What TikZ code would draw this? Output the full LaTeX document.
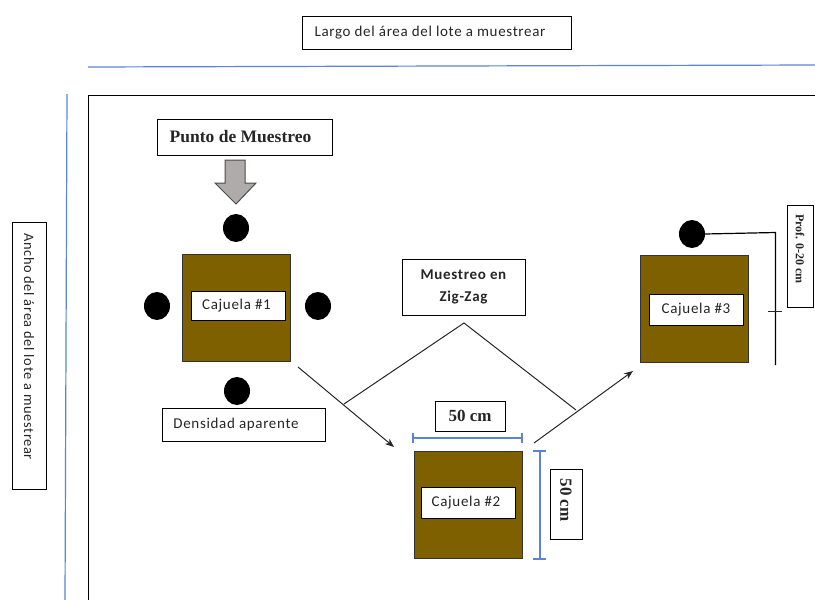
\documentclass[tikz,border=0pt]{standalone}
\usepackage{fontspec}
\setmainfont{Liberation Serif}
\newfontfamily\bodyfont[LetterSpace=4.5]{Carlito}
\usetikzlibrary{arrows.meta,shapes.geometric}
\definecolor{soil}{HTML}{7F6000}
\definecolor{dimblue}{HTML}{5B84D6}
\definecolor{arrowgray}{HTML}{AFABAB}
\tikzset{
  x=1pt,y=-1pt,
  every node/.style={inner sep=0pt,outer sep=0pt},
  lbl/.style={draw=black,line width=1pt,fill=white,font=\bodyfont\fontsize{15}{17}\selectfont,text=black!85,align=center},
  boldlbl/.style={draw=black,line width=1pt,fill=white,font=\bfseries\fontsize{17}{20}\selectfont,text=black!85,align=center},
  cajuela/.style={draw=black!80,line width=1pt,fill=soil,minimum width=108pt,minimum height=107pt},
  dotnode/.style={fill=black,draw=none,ellipse,minimum width=26pt,minimum height=28pt},
  dimline/.style={draw=dimblue,line width=1.2pt},
  conn/.style={draw=black!85,line width=1pt},
  arr/.style={conn,-{Stealth[length=9pt,width=7pt]}},
}
\begin{document}
\begin{tikzpicture}
\useasboundingbox (0,0) rectangle (815,600);
% field outline and sides
\coordinate (fa) at (815,95); \coordinate (fb) at (88,95); \coordinate (fc) at (88,600);
\draw[black,line width=1pt] (fa) -- (fb) -- (fc);
\coordinate (la) at (88,67); \coordinate (lb) at (815,65);
\draw[dimline] (la) -- (lb);
\coordinate (wa) at (67,94); \coordinate (wb) at (65,600);
\draw[dimline] (wa) -- (wb);
\node[lbl,minimum width=269pt,minimum height=33pt] (largo) at (436.5,32.5) {Largo del área del lote a muestrear\hspace*{13pt}};
\node[lbl,font=\bodyfont\fontsize{14.4}{17}\selectfont,minimum width=267pt,minimum height=34pt,rotate=-90] (ancho) at (29,355.5) {Ancho del área del lote a muestrear\hspace*{18pt}};
% cajuelas
\node[cajuela] (c1) at (236,307.5) {};
\node[cajuela] (c2) at (468,505) {};
\node[cajuela] (c3) at (694,308.5) {};
\node[lbl,minimum width=94pt,minimum height=29pt] (t1) at (238,305.5) {Cajuela \#1\hspace*{3pt}};
\node[lbl,minimum width=94pt,minimum height=31pt] (t2) at (468,502.5) {Cajuela \#2\hspace*{4pt}};
\node[lbl,minimum width=94pt,minimum height=31pt] (t3) at (696,310) {Cajuela \#3};
% dots
\node[dotnode] (d1) at (236,228) {};
\node[dotnode] (d2) at (157,306) {};
\node[dotnode] (d3) at (318,306) {};
\node[dotnode] (d4) at (237,391) {};
\node[dotnode] (d5) at (692,234) {};
% labels
\node[boldlbl,font=\bfseries\fontsize{17.5}{20}\selectfont,minimum width=175pt,minimum height=36pt] (punto) at (244.5,137) {Punto de Muestreo\hspace*{8pt}};
\node[lbl,minimum width=163pt,minimum height=33pt] (dens) at (243.5,424.5) {Densidad aparente\hspace*{15pt}};
\node[lbl,font=\bodyfont\bfseries\fontsize{15}{22}\selectfont,minimum width=123pt,minimum height=56pt] (zig) at (463.5,287) {Muestreo en\\Zig-Zag};
\node[boldlbl,minimum width=70pt,minimum height=30pt] (w50) at (470,416) {50 cm};
\node[boldlbl,minimum width=32pt,minimum height=70pt] (h50) at (566,504) {\rotatebox{-90}{50 cm\hspace*{8pt}}};
\node[draw=black,line width=1pt,fill=white,font=\bfseries\fontsize{12}{14}\selectfont,text=black!85,minimum width=26pt,minimum height=102pt] (prof) at (800,256) {\rotatebox{-90}{Prof. 0-20 cm\hspace*{14pt}}};
% grey arrow
\draw[fill=arrowgray,draw=black!70,line width=1pt] (225,160) -- (245,160) -- (245,183) -- (256,183) -- (236,204) -- (215,183) -- (225,183) -- cycle;
% zig-zag
\coordinate (z1) at (298,367); \coordinate (z2) at (394,447);
\coordinate (z3) at (534,443); \coordinate (z4) at (633,371);
\coordinate (m1) at (344,404); \coordinate (m2) at (464,323); \coordinate (m3) at (576,410);
\draw[arr] (z1) -- (z2);
\draw[arr] (z3) -- (z4);
\draw[conn] (m1) -- (m2) -- (m3);
% dimensions
\coordinate (da) at (413,438); \coordinate (db) at (522,438);
\draw[dimline] (da) -- (db);
\draw[dimline] (413,433) -- (413,443);
\draw[dimline] (522,433) -- (522,443);
\coordinate (dc) at (540,451); \coordinate (dd) at (540,559);
\draw[dimline] (dc) -- (dd);
\draw[dimline] (533,451) -- (546,451);
\draw[dimline] (533,559) -- (546,559);
% depth line
\coordinate (pa) at (775.5,232.5); \coordinate (pb) at (775.5,365);
\draw[conn,line width=1.2pt,draw=black] (d5.east) -- (pa) -- (pb);
\draw[conn] (768,311.5) -- (782,311.5);
\end{tikzpicture}
\end{document}
